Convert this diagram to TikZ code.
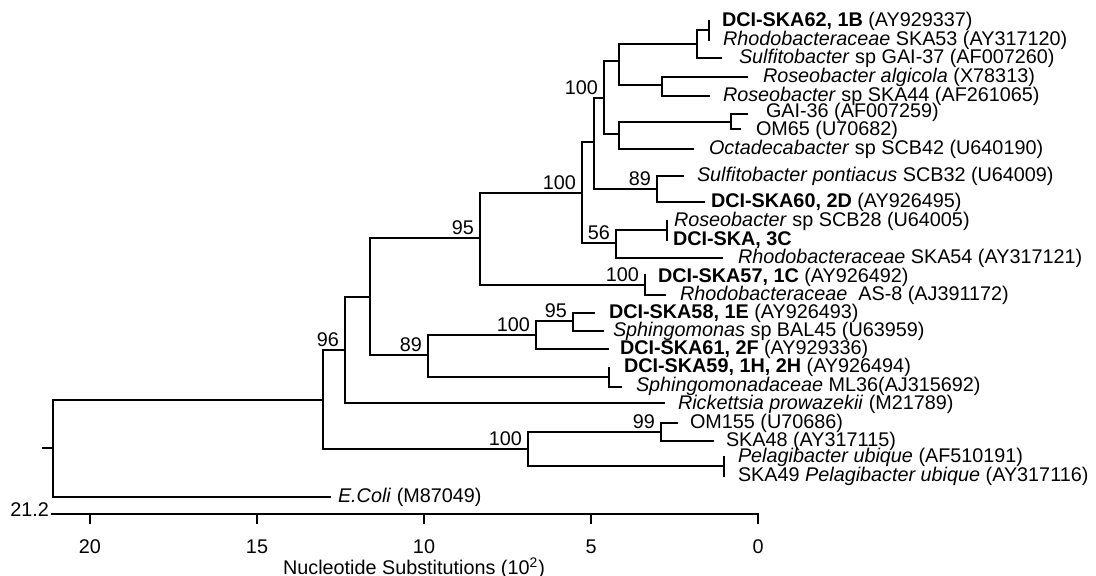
\documentclass[tikz,border=0pt]{standalone}
\usepackage{fontspec}
\setmainfont{Liberation Sans}
\tikzset{px/.style={x=0.5pt,y=-0.5pt,line width=1pt,line cap=rect,font=\fontsize{9.9}{10}\selectfont},
  taxon/.style={anchor=west,inner sep=0pt},
  boot/.style={anchor=south east,inner xsep=2.5pt,inner ysep=1pt}}
\begin{document}
\begin{tikzpicture}[px]
  \useasboundingbox (0,0) rectangle (1096,576);
  % join points of the tree
  \coordinate (root) at (53,448);\coordinate (stub) at (43,448);\coordinate (stubEnd) at (51,448);
  \coordinate (nOut) at (323,400);\coordinate (nAlpha) at (345,350);\coordinate (nH) at (370,297);
  \coordinate (nRos) at (480,238);\coordinate (nG) at (582,193);\coordinate (nF) at (594,142);
  \coordinate (nD) at (604,98);\coordinate (nB) at (619,61);\coordinate (nA) at (697,44);
  \coordinate (nC) at (662,85);\coordinate (nE) at (619,134);\coordinate (nGO) at (731,122);
  \coordinate (nPont) at (657,189);\coordinate (nScb) at (616,243);\coordinate (nAs) at (645,285);
  \coordinate (nSph) at (428,355);\coordinate (nSphA) at (536,335);\coordinate (nSphB) at (573,321);
  \coordinate (nMl) at (609,377);\coordinate (nPel) at (528,449);\coordinate (nOm) at (661,432);
  % tips and zero-length pairs
  \coordinate (barA) at (709,30);\coordinate (barA1) at (709,21);\coordinate (barA2) at (709,40);
  \coordinate (tGai37) at (721,58);\coordinate (tAlg) at (747,77);\coordinate (tSka44) at (709,96);
  \coordinate (tGai36) at (747,114);\coordinate (tOm65) at (740,129);\coordinate (tOct) at (693,149);
  \coordinate (tPont) at (683,176);\coordinate (tSka60) at (704,202);
  \coordinate (barS) at (667,230);\coordinate (barS1) at (667,221);\coordinate (barS2) at (667,240);
  \coordinate (tSka54) at (722,258);\coordinate (tSka57) at (645,275);\coordinate (tAs8) at (665,295);
  \coordinate (tSka58) at (594,313);\coordinate (tBal45) at (603,331);\coordinate (tSka61) at (608,349);
  \coordinate (tSka59) at (609,368);\coordinate (tMl36) at (621,387);\coordinate (tRick) at (664,403);
  \coordinate (tOm155) at (677,423);\coordinate (tSka48) at (713,441);
  \coordinate (barP) at (724,466);\coordinate (barP1) at (724,457);\coordinate (barP2) at (724,476);
  \coordinate (tEcoli) at (330,497);
  % branches
  \draw (stub) -- (stubEnd);
  \foreach \p/\c in {root/nOut,root/tEcoli,nOut/nAlpha,nOut/nPel,nAlpha/nH,nAlpha/tRick,
      nH/nRos,nH/nSph,nRos/nG,nRos/nAs,nG/nF,nG/nScb,nF/nD,nF/nPont,nD/nB,nD/nE,
      nB/nA,nB/nC,nA/barA,nA/tGai37,nC/tAlg,nC/tSka44,nE/nGO,nE/tOct,nGO/tGai36,nGO/tOm65,
      nPont/tPont,nPont/tSka60,nScb/barS,nScb/tSka54,nAs/tSka57,nAs/tAs8,
      nSph/nSphA,nSph/nMl,nSphA/nSphB,nSphA/tSka61,nSphB/tSka58,nSphB/tBal45,
      nMl/tSka59,nMl/tMl36,nPel/nOm,nPel/barP,nOm/tOm155,nOm/tSka48}
    \draw (\p) |- (\c);
  \draw (barA1) -- (barA2);\draw (barS1) -- (barS2);\draw (barP1) -- (barP2);
  % taxa
  \node[taxon] (dci62) at (721,21) {\textbf{DCI-SKA62, 1B} (AY929337)};
  \node[taxon] (ska53) at (722,40) {\textit{Rhodobacteraceae} SKA53 (AY317120)};
  \node[taxon] (gai37) at (738,58) {\textit{Sulfitobacter} sp GAI-37 (AF007260)};
  \node[taxon] (algicola) at (762,77) {\textit{Roseobacter algicola} (X78313)};
  \node[taxon] (ska44) at (722,96) {\textit{Roseobacter} sp SKA44 (AF261065)};
  \node[taxon] (gai36) at (765,112) {GAI-36 (AF007259)};
  \node[taxon] (om65) at (755,130) {OM65 (U70682)};
  \node[taxon] (scb42) at (708,149) {\textit{Octadecabacter} sp SCB42 (U640190)};
  \node[taxon] (scb32) at (696,176) {\textit{Sulfitobacter pontiacus} SCB32 (U64009)};
  \node[taxon] (dci60) at (710,202) {\textbf{DCI-SKA60, 2D} (AY926495)};
  \node[taxon] (scb28) at (673,221) {\textit{Roseobacter} sp SCB28 (U64005)};
  \node[taxon] (dci3c) at (672,240) {\textbf{DCI-SKA, 3C}};
  \node[taxon] (ska54) at (737,258) {\textit{Rhodobacteraceae} SKA54 (AY317121)};
  \node[taxon] (dci57) at (657,277) {\textbf{DCI-SKA57, 1C} (AY926492)};
  \node[taxon] (as8) at (679,295) {\textit{Rhodobacteraceae}\ \ AS-8 (AJ391172)};
  \node[taxon] (dci58) at (608,313) {\textbf{DCI-SKA58, 1E} (AY926493)};
  \node[taxon] (bal45) at (612,331) {\textit{Sphingomonas} sp BAL45 (U63959)};
  \node[taxon] (dci61) at (619,349) {\textbf{DCI-SKA61, 2F} (AY929336)};
  \node[taxon] (dci59) at (623,367) {\textbf{DCI-SKA59, 1H, 2H} (AY926494)};
  \node[taxon] (ml36) at (635,386) {\textit{Sphingomonadaceae} ML36(AJ315692)};
  \node[taxon] (rick) at (677,404) {\textit{Rickettsia prowazekii} (M21789)};
  \node[taxon] (om155) at (689,423) {OM155 (U70686)};
  \node[taxon] (ska48) at (725,441) {SKA48 (AY317115)};
  \node[taxon] (pelag) at (737,457) {\textit{Pelagibacter ubique} (AF510191)};
  \node[taxon] (ska49) at (737,476) {SKA49 \textit{Pelagibacter ubique} (AY317116)};
  \node[taxon] (ecoli) at (337,497) {\textit{E.Coli} (M87049)};
  % bootstrap values
  \node[boot] (bAlpha) at (nAlpha) {96};\node[boot] (bRos) at (nRos) {95};
  \node[boot] (bG) at (nG) {100};\node[boot] (bD) at (nD) {100};
  \node[boot] (bPont) at (nPont) {89};\node[boot] (bScb) at (nScb) {56};
  \node[boot] (bAs) at (nAs) {100};\node[boot] (bSph) at (nSph) {89};
  \node[boot] (bSphA) at (nSphA) {100};\node[boot] (bSphB) at (nSphB) {95};
  \node[boot] (bPel) at (nPel) {100};\node[boot] (bOm) at (nOm) {99};
  % scale
  \coordinate (axL) at (52,514);\coordinate (axR) at (758,514);
  \draw (axL) -- (axR);
  \node[anchor=east,inner sep=1pt] (axMax) at (52,510) {21.2};
  \foreach \d in {0,5,10,15,20}{
    \draw (758-33.4*\d,514) -- ++(0,9);
    \node[inner sep=0pt] (tick\d) at (758-33.4*\d,547) {\d};}
  \node[inner sep=0pt] (axTitle) at (414,568) {Nucleotide Substitutions (10\textsuperscript{2})};
\end{tikzpicture}
\end{document}
